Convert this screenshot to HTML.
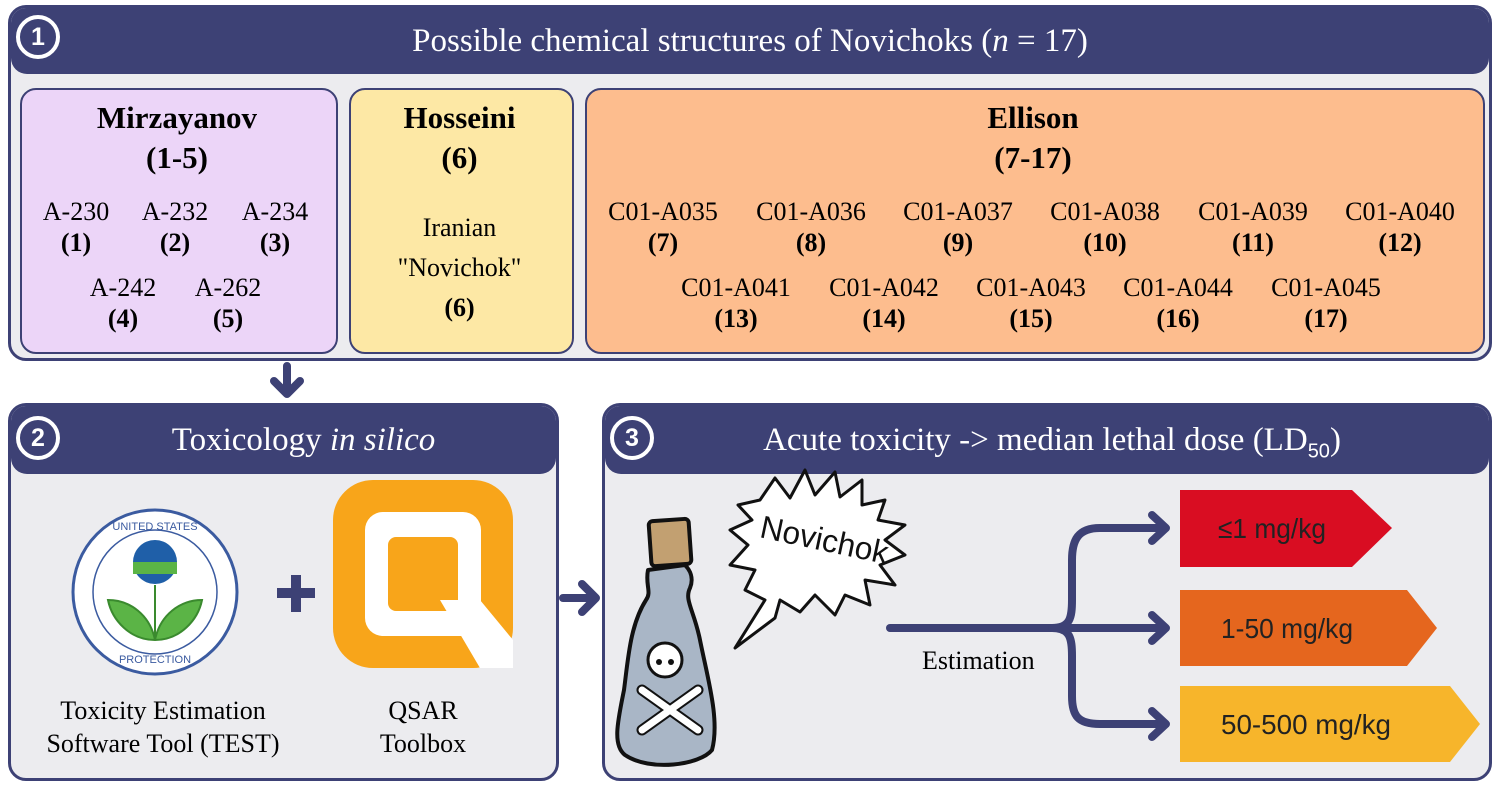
<!DOCTYPE html>
<html><head><style>
body{margin:0;width:1499px;height:789px;background:#fff;position:relative;font-family:"Liberation Serif",serif;overflow:hidden}
.abs{position:absolute}
.panel{position:absolute;border:3px solid #3d4175;border-radius:18px;background:#ececef;box-sizing:border-box;overflow:hidden}
.hdr{position:absolute;left:0;right:0;top:0;background:#3d4175;color:#fff;font-size:33px;text-align:center;border-radius:0 0 16px 16px}
.num{position:absolute;width:36px;height:36px;border:4px solid #fff;border-radius:50%;color:#fff;font-family:"Liberation Sans",sans-serif;font-weight:bold;font-size:25px;text-align:center;line-height:36px}
.box{position:absolute;border:2.5px solid #3d4175;border-radius:16px;box-sizing:border-box;text-align:center;font-size:26px}
.t{position:absolute;text-align:center;font-size:26px;line-height:31px;white-space:nowrap}
b{font-weight:bold}
</style></head><body>

<div class="panel" style="left:8px;top:5px;width:1484px;height:356px">
 <div class="hdr" style="height:66px;line-height:66px">Possible chemical structures of Novichoks (<i>n</i> = 17)</div>
 <div class="num" style="left:5px;top:7px">1</div>
 <div class="box" style="left:9px;top:80px;width:318px;height:266px;background:#ecd5f8"></div>
 <div class="box" style="left:338px;top:80px;width:225px;height:266px;background:#fde8a5"></div>
 <div class="box" style="left:574px;top:80px;width:900px;height:266px;background:#fdbd8e"></div>
</div>
<div class="t" style="left:19px;width:316px;top:98px;font-weight:bold;font-size:31px;line-height:40px">Mirzayanov<br>(1-5)</div>
<div class="t" style="left:26px;top:196px;width:100px">A-230<br><b>(1)</b></div>
<div class="t" style="left:125px;top:196px;width:100px">A-232<br><b>(2)</b></div>
<div class="t" style="left:225px;top:196px;width:100px">A-234<br><b>(3)</b></div>
<div class="t" style="left:73px;top:272px;width:100px">A-242<br><b>(4)</b></div>
<div class="t" style="left:178px;top:272px;width:100px">A-262<br><b>(5)</b></div>
<div class="t" style="left:348px;width:223px;top:98px;font-weight:bold;font-size:31px;line-height:40px">Hosseini<br>(6)</div>
<div class="t" style="left:348px;width:223px;top:208px;line-height:40px">Iranian<br>"Novichok"<br><b>(6)</b></div>
<div class="t" style="left:584px;width:898px;top:98px;font-weight:bold;font-size:31px;line-height:40px">Ellison<br>(7-17)</div>
<div class="t" style="left:593px;top:196px;width:140px">C01-A035<br><b>(7)</b></div>
<div class="t" style="left:741px;top:196px;width:140px">C01-A036<br><b>(8)</b></div>
<div class="t" style="left:888px;top:196px;width:140px">C01-A037<br><b>(9)</b></div>
<div class="t" style="left:1035px;top:196px;width:140px">C01-A038<br><b>(10)</b></div>
<div class="t" style="left:1183px;top:196px;width:140px">C01-A039<br><b>(11)</b></div>
<div class="t" style="left:1330px;top:196px;width:140px">C01-A040<br><b>(12)</b></div>
<div class="t" style="left:666px;top:272px;width:140px">C01-A041<br><b>(13)</b></div>
<div class="t" style="left:814px;top:272px;width:140px">C01-A042<br><b>(14)</b></div>
<div class="t" style="left:961px;top:272px;width:140px">C01-A043<br><b>(15)</b></div>
<div class="t" style="left:1108px;top:272px;width:140px">C01-A044<br><b>(16)</b></div>
<div class="t" style="left:1256px;top:272px;width:140px">C01-A045<br><b>(17)</b></div>

<div class="panel" style="left:8px;top:403px;width:551px;height:378px">
 <div class="hdr" style="height:68px;line-height:68px;padding-left:40px;box-sizing:border-box">Toxicology <i>in silico</i></div>
 <div class="num" style="left:5px;top:10px">2</div>
</div>
<div class="panel" style="left:602px;top:403px;width:890px;height:378px">
 <div class="hdr" style="height:68px;line-height:68px;padding-left:10px;box-sizing:border-box">Acute toxicity -&gt; median lethal dose (LD<sub style="font-family:'Liberation Sans';font-size:20px">50</sub>)</div>
 <div class="num" style="left:5px;top:10px">3</div>
</div>

<div class="t" style="left:18px;top:694px;width:290px;line-height:33px">Toxicity Estimation<br>Software Tool (TEST)</div>
<div class="t" style="left:338px;top:694px;width:170px;line-height:33px">QSAR<br>Toolbox</div>
<div class="t" style="left:922px;top:645px;width:130px;text-align:left">Estimation</div>

<svg class="abs" style="left:0;top:0" width="1499" height="789" viewBox="0 0 1499 789">
 <g stroke="#3d4175" stroke-width="8" fill="none" stroke-linecap="round" stroke-linejoin="round">
  <path d="M287 366V392M274 381L287 394L300 381"/>
  <path d="M563 598H594M582 584L596 598L582 612"/>
  <path d="M890 628H1165"/>
  <path d="M1052 628C1070 628 1072 618 1072 600V560C1072 540 1078 528 1100 528H1165"/>
  <path d="M1052 628C1070 628 1072 638 1072 656V696C1072 716 1078 724 1100 724H1165"/>
  <path d="M1152 515L1166 528L1152 541M1152 615L1166 628L1152 641M1152 711L1166 724L1152 737"/>
 </g>
 <polygon points="1180,490 1352,490 1392,528 1352,567 1180,567" fill="#d90d22"/>
 <polygon points="1180,590 1407,590 1437,628 1407,666 1180,666" fill="#e5661e"/>
 <polygon points="1180,686 1450,686 1480,724 1450,762 1180,762" fill="#f7b52b"/>
 <g font-family="Liberation Sans,sans-serif" font-size="28" fill="#222">
  <text x="1218" y="538" textLength="108" lengthAdjust="spacingAndGlyphs">≤1 mg/kg</text>
  <text x="1221" y="638" textLength="132" lengthAdjust="spacingAndGlyphs">1-50 mg/kg</text>
  <text x="1221" y="734" textLength="170" lengthAdjust="spacingAndGlyphs">50-500 mg/kg</text>
 </g>
 <!-- EPA -->
 <circle cx="155" cy="592" r="82" fill="#fff" stroke="#3b5ba0" stroke-width="3"/>
 <circle cx="155" cy="592" r="62" fill="none" stroke="#3b5ba0" stroke-width="1.5"/>
 <circle cx="155" cy="562" r="22" fill="#1f5fa8"/>
 <rect x="133" y="562" width="44" height="12" fill="#5bb446"/>
 <path d="M155 585V640M155 640C130 640 112 620 108 600C130 600 150 615 155 640C160 615 180 600 202 600C198 620 180 640 155 640" fill="#5bb446" stroke="#3a8a2e" stroke-width="2"/>
 <text x="155" y="530" text-anchor="middle" font-family="Liberation Sans" font-size="11" fill="#3b5ba0">UNITED STATES</text>
 <text x="155" y="663" text-anchor="middle" font-family="Liberation Sans" font-size="11" fill="#3b5ba0">PROTECTION</text>
 <!-- plus -->
 <path d="M296 575V612M277 593H315" stroke="#3d4175" stroke-width="10"/>
 <!-- Q -->
 <rect x="333" y="480" width="180" height="188" rx="40" fill="#f8a51a"/>
 <rect x="365" y="512" width="116" height="124" rx="18" fill="#fff"/>
 <rect x="388" y="537" width="70" height="74" rx="8" fill="#f8a51a"/>
 <path d="M440 600L480 668H513V640L480 600Z" fill="#fff"/>
 <!-- bottle -->
 <path d="M648 570C645 585 652 592 646 600C630 625 628 660 624 690C618 720 612 745 625 755C650 772 700 765 712 750C720 720 708 680 700 640C694 610 684 600 690 588C694 578 690 570 685 565Z" fill="#a9b6c6" stroke="#111" stroke-width="4" stroke-linejoin="round"/>
 <rect x="650" y="520" width="40" height="45" rx="4" fill="#c2a071" stroke="#111" stroke-width="4" transform="rotate(-4 670 542)"/>
 <circle cx="665" cy="660" r="17" fill="#fff" stroke="#111" stroke-width="3"/>
 <circle cx="659" cy="662" r="3" fill="#111"/><circle cx="671" cy="662" r="3" fill="#111"/>
 <path d="M642 690L698 730M698 690L642 730" stroke="#111" stroke-width="11" stroke-linecap="round"/>
 <path d="M642 690L698 730M698 690L642 730" stroke="#fff" stroke-width="7" stroke-linecap="round"/>
 <!-- burst -->
 <polygon points="760,500 775,478 790,498 805,470 815,495 835,472 840,497 862,480 862,505 885,500 878,520 905,525 885,540 905,555 880,565 895,585 865,580 870,605 845,595 835,615 815,595 800,612 780,600 775,618 735,648 765,600 745,590 755,570 730,565 748,545 730,530 752,520 738,505" fill="#fff" stroke="#111" stroke-width="3" stroke-linejoin="round"/>
 <text x="757" y="548" font-family="Liberation Sans Narrow,Liberation Sans,sans-serif" font-size="32" transform="rotate(12 810 550)" fill="#111" textLength="130" lengthAdjust="spacingAndGlyphs">Novichok</text>
</svg>
</body></html>
